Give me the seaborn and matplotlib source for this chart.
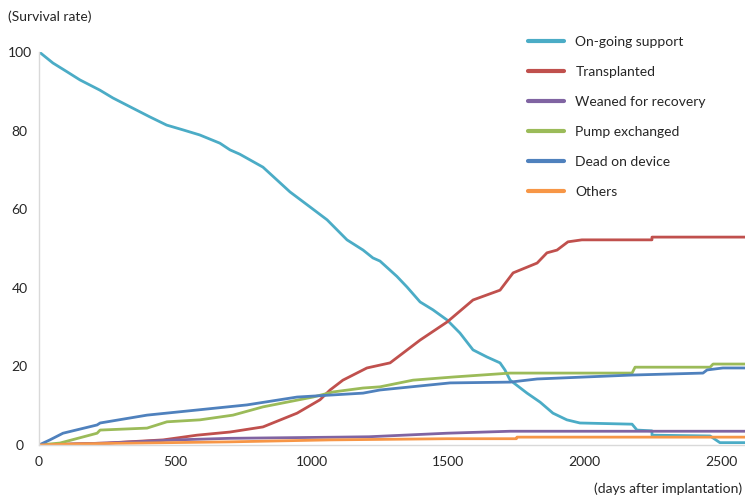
import matplotlib
matplotlib.use("Agg")
import matplotlib.pyplot as plt
import seaborn as sns
import pandas as pd

# Cumulative outcome curves (days after implantation vs. %)
ongoing_days = [0, 10, 51, 102, 150, 223, 271, 344, 406, 468, 527, 589, 663, 700, 736, 821, 920, 993,
                1056, 1129, 1188, 1224, 1250, 1312, 1349, 1397, 1444, 1496, 1543, 1591, 1642,
                1690, 1708, 1727, 1789, 1837, 1884, 1935, 1983, 2174, 2192, 2247, 2247, 2460, 2496, 2588]
ongoing_vals = [100, 99.5, 97.2, 95.0, 92.9, 90.3, 88.3, 85.7, 83.5, 81.4, 80.2, 78.9, 76.8, 75.1, 74.0, 70.7, 64.4, 60.6,
                57.3, 52.2, 49.6, 47.6, 46.8, 42.9, 40.2, 36.4, 34.4, 31.8, 28.5, 24.2, 22.4,
                20.9, 19.1, 16.5, 13.2, 10.9, 8.1, 6.4, 5.6, 5.3, 3.8, 3.6, 2.5, 2.3, 0.6, 0.6]

transplant_days = [0, 249, 455, 579, 700, 821, 946, 1030, 1067, 1114, 1202, 1287, 1397, 1496, 1591,
                   1690, 1738, 1826, 1862, 1899, 1939, 1990, 2247, 2247, 2588]
transplant_vals = [0, 0.5, 1.3, 2.5, 3.3, 4.6, 8.1, 11.5, 14.0, 16.5, 19.6, 20.9, 26.7, 31.3, 36.9,
                   39.4, 43.8, 46.3, 48.9, 49.6, 51.7, 52.2, 52.2, 52.9, 52.9]

weaned_days = [0, 250, 500, 700, 1100, 1210, 1496, 1727, 2588]
weaned_vals = [0, 0.5, 1.3, 1.7, 2.0, 2.1, 3.0, 3.5, 3.5]

pump_days = [0, 77, 213, 224, 396, 469, 590, 711, 821, 894, 1004, 1078, 1188, 1250, 1371, 1518,
             1727, 2174, 2185, 2460, 2471, 2588]
pump_vals = [0, 0.5, 3.0, 3.8, 4.3, 5.9, 6.4, 7.6, 9.7, 10.7, 12.2, 13.5, 14.5, 14.8, 16.5, 17.3,
             18.3, 18.3, 19.8, 19.8, 20.6, 20.6]

dead_days = [0, 40, 88, 213, 224, 396, 579, 762, 946, 1067, 1188, 1250, 1507, 1727, 1826, 2174,
             2434, 2449, 2507, 2588]
dead_vals = [0, 1.3, 3.0, 5.1, 5.6, 7.6, 8.9, 10.2, 12.2, 12.7, 13.2, 14.0, 15.8, 16.0, 16.8, 17.8,
             18.3, 19.1, 19.6, 19.6]

others_days = [0, 150, 700, 1067, 1496, 1750, 1752, 2588]
others_vals = [0, 0.3, 0.8, 1.3, 1.6, 1.6, 2.0, 2.0]

outcomes = ["On-going support", "Transplanted", "Weaned for recovery",
            "Pump exchanged", "Dead on device", "Others"]
colors = ["#4BACC6", "#C0504D", "#8064A2", "#9BBB59", "#4F81BD", "#F79646"]
series = [(ongoing_days, ongoing_vals), (transplant_days, transplant_vals),
          (weaned_days, weaned_vals), (pump_days, pump_vals),
          (dead_days, dead_vals), (others_days, others_vals)]

frames = []
for name, (d, v) in zip(outcomes, series):
    frames.append(pd.DataFrame({"day": d, "rate": v, "outcome": name}))
df = pd.concat(frames, ignore_index=True)

sns.set_style("white")
plt.rcParams["font.family"] = ["Lato", "DejaVu Sans"]
text_color = "#262626"

fig = plt.figure(figsize=(7.45, 5.0), dpi=100)
ax = fig.add_axes([39 / 745, 55 / 500, 1 - 39 / 745, (445 - 52) / 500])

sns.lineplot(data=df, x="day", y="rate", hue="outcome", hue_order=outcomes,
             palette=dict(zip(outcomes, colors)), estimator=None, sort=False,
             linewidth=2.0, ax=ax)

ax.set_xlim(0, 2588)
ax.set_ylim(0, 100)
ax.set_xticks([0, 500, 1000, 1500, 2000, 2500])
ax.set_yticks([0, 20, 40, 60, 80, 100])
ax.set_xlabel("")
ax.set_ylabel("")
for s in ["top", "right"]:
    ax.spines[s].set_visible(False)
for s in ["left", "bottom"]:
    ax.spines[s].set_color("#D9D9D9")
    ax.spines[s].set_linewidth(1.0)
ax.tick_params(axis="both", length=0, labelsize=10, colors=text_color)
ax.tick_params(axis="y", pad=14)
for lab in ax.get_yticklabels():
    lab.set_horizontalalignment("center")
ax.tick_params(axis="x", pad=8)

leg = ax.legend(loc="upper left", bbox_to_anchor=(515 / 745, 1 - 23 / 500),
                bbox_transform=fig.transFigure, frameon=False, fontsize=10,
                handlelength=2.6, handletextpad=0.85, labelspacing=1.3)
for line in leg.get_lines():
    line.set_linewidth(3.0)
for t in leg.get_texts():
    t.set_color(text_color)

fig.text(8 / 745, 1 - 17 / 500, "(Survival rate)", ha="left", va="center",
         fontsize=10, color=text_color)
fig.text(742 / 745, 1 - 489 / 500, "(days after implantation)", ha="right", va="center",
         fontsize=10, color=text_color)

fig.savefig("out.png", dpi=100)
